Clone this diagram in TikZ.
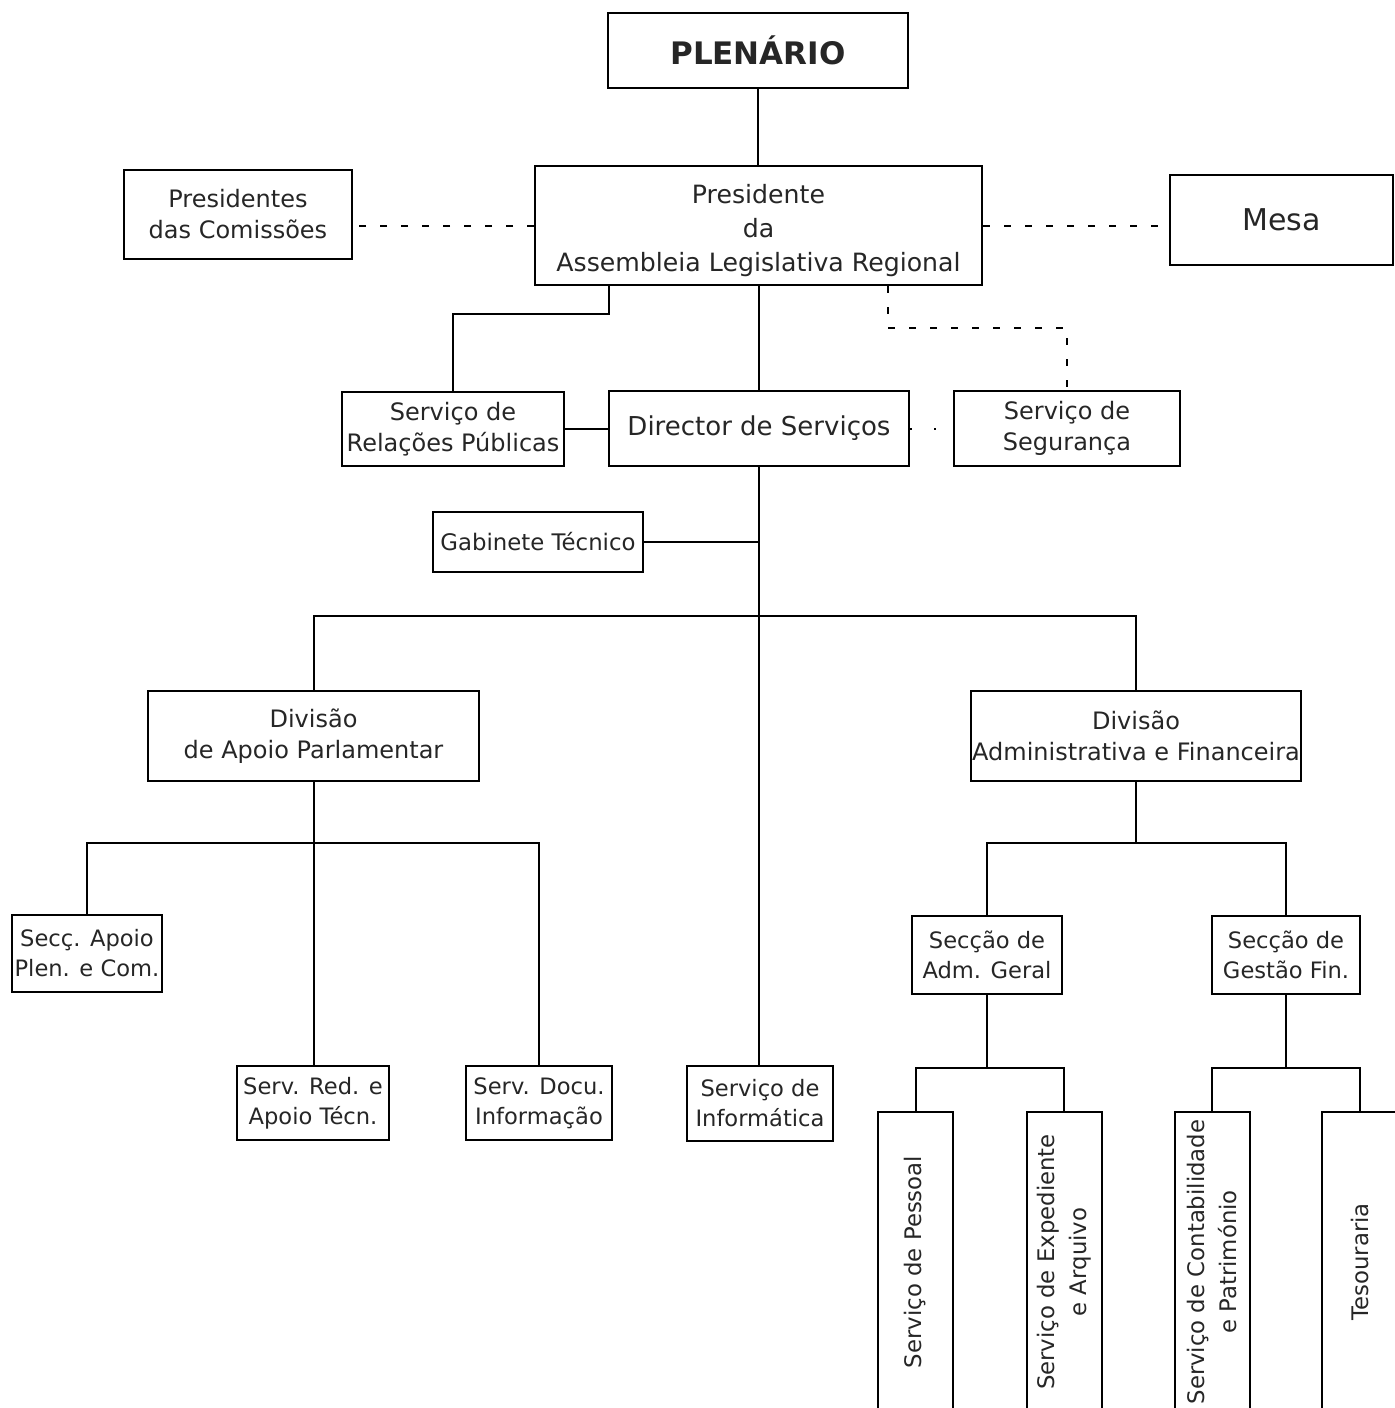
\documentclass[tikz,border=0pt]{standalone}
\usepackage{fontspec}
\setmainfont{DejaVu Sans}
\usetikzlibrary{calc}
\tikzset{
  box/.style={draw, line width=1pt, inner sep=0pt, align=center, text=black!85, font=\fontsize{12}{15.5}\selectfont},
  small/.style={font=\fontsize{11.3}{15}\selectfont},
  vert/.style={box, rotate=90, minimum width=150pt, minimum height=37.5pt, font=\fontsize{11.4}{16}\selectfont},
  conn/.style={line width=1pt},
  dsh/.style={line width=1pt, dash pattern=on 3.5pt off 7pt},
  dots/.style={line width=1pt, dash pattern=on 1pt off 11pt},
}
\newcommand\bx[7][]{\node[box,#1,minimum width={(#5-#3)*0.5pt},minimum height={(#6-#4)*0.5pt}] (#2) at ({(#3+#5)/2},{(#4+#6)/2}) {#7};}
\begin{document}
\begin{tikzpicture}[x=0.5pt,y=-0.5pt]
\useasboundingbox (0,0) rectangle (1395,1408);
% boxes
\bx[font=\bfseries\fontsize{15.5}{18}\selectfont]{plen}{608}{13}{908}{88}{PLENÁRIO}
\bx[font=\fontsize{12.6}{17}\selectfont]{pres}{535}{166}{982}{285}{\rule{0pt}{15pt}Presidente\\da\\Assembleia Legislativa Regional}
\bx{presc}{124}{170}{352}{259}{Presidentes\\das Comissões}
\bx[font=\fontsize{15}{18}\selectfont]{mesa}{1170}{175}{1393}{265}{Mesa}
\bx{relpub}{342}{392}{564}{466}{Serviço de\\Relações Públicas}
\bx[font=\fontsize{13}{16}\selectfont]{dir}{609}{391}{909}{466}{Director de Serviços}
\bx{segur}{954}{391}{1180}{466}{Serviço de\\Segurança}
\bx[font=\fontsize{11.4}{14}\selectfont]{gab}{433}{512}{643}{572}{Gabinete Técnico}
\bx{div1}{148}{691}{479}{781}{Divisão\\de Apoio Parlamentar}
\bx{div2}{971}{691}{1301}{781}{Divisão\\Administrativa e Financeira}
\bx[small]{secc}{12}{915}{162}{992}{Secç. Apoio\\Plen. e Com.}
\bx[small]{red}{237}{1066}{389}{1140}{Serv. Red. e\\Apoio Técn.}
\bx[small]{docu}{466}{1066}{612}{1140}{Serv. Docu.\\Informação}
\bx[small]{info}{687}{1066}{833}{1141}{Serviço de\\Informática}
\bx[small]{adm}{912}{916}{1062}{994}{Secção de\\Adm. Geral}
\bx[small]{gest}{1212}{916}{1360}{994}{Secção de\\Gestão Fin.}
\node[vert] (pess) at (915.5,1262) {Serviço de Pessoal};
\node[vert] (exp) at (1064,1262) {Serviço de Expediente\\e Arquivo};
\node[vert] (cont) at (1212,1262) {Serviço de Contabilidade\\e Património};
\node[vert] (tes) at (1359.5,1262) {Tesouraria};
% hubs
\coordinate (h1) at (760,616);
\coordinate (h2) at (313.5,843);
\coordinate (h3) at (1136,843);
\coordinate (h4) at (987,1068);
\coordinate (h5) at (1286,1068);
% connectors
\draw[conn] (plen.south) -- (plen.south |- pres.north);
\draw[dsh] (pres.west) -- (pres.west -| presc.east);
\draw[dsh] (pres.east) -- (pres.east -| mesa.west);
\draw[conn] ([xshift=-74.75pt]pres.south) -- ++(0,28) -| (relpub.north);
\draw[conn] (pres.south) -- (pres.south |- dir.north);
\draw[dsh] ([xshift=64.75pt]pres.south) -- ++(0,42) -| (segur.north);
\draw[conn] (relpub.east) -- (relpub.east -| dir.west);
\draw[dots] (dir.east) -- (segur.west);
\draw[conn] (dir.south) -- (dir.south |- info.north);
\draw[conn] (gab.east) -- (gab.east -| dir.south);
\draw[conn] (div1.north) |- (h1) -| (div2.north);
\draw[conn] (div1.south) -- (div1.south |- red.north);
\draw[conn] (secc.north) |- (h2) -| (docu.north);
\draw[conn] (div2.south) -- (h3);
\draw[conn] (adm.north) |- (h3) -| (gest.north);
\draw[conn] (adm.south) -- (h4);
\draw[conn] (pess.east) |- (h4) -| (exp.east);
\draw[conn] (gest.south) -- (h5);
\draw[conn] (cont.east) |- (h5) -| (tes.east);
\end{tikzpicture}
\end{document}
